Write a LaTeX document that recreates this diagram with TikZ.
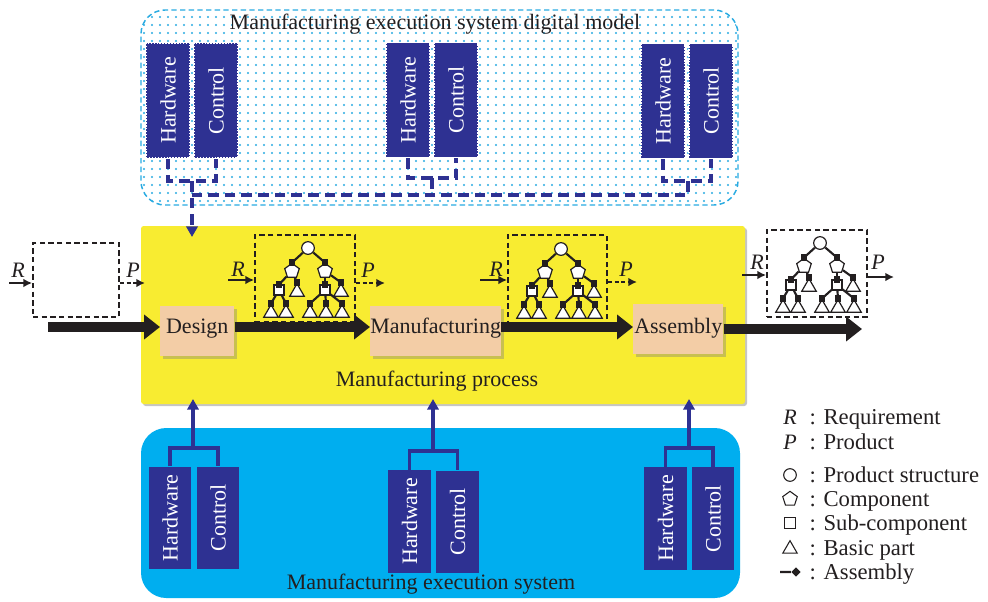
\documentclass[tikz,border=0pt]{standalone}
\usepackage{fontspec}
\setmainfont{Liberation Serif}
\usetikzlibrary{arrows.meta,shapes.geometric,fit,patterns.meta,shadows}

\definecolor{ink}{HTML}{231F20}
\definecolor{navy}{HTML}{2E3192}
\definecolor{procyellow}{HTML}{F8EC31}
\definecolor{mescyan}{HTML}{00AEEF}
\definecolor{dotcyan}{HTML}{29ABE2}
\definecolor{stagetan}{HTML}{F3CDA6}

% one product-structure tree, drawn in a 100 x 87 frame
\newcommand{\prodtree}{%
  \node[tcirc] (r) at (53,13) {};
  \node[tpent] (a) at (37,36) {};
  \node[tpent] (b) at (70,36) {};
  \node[tsq]   (a1) at (24,55) {};
  \node[ttri]  (a2) at (42,57) {};
  \node[tsq]   (b1) at (70,55) {};
  \node[ttri]  (b2) at (86,57) {};
  \node[ttri]  (a11) at (16,78) {};
  \node[ttri]  (a12) at (31,78) {};
  \node[ttri]  (b11) at (55,78) {};
  \node[ttri]  (b12) at (71,78) {};
  \node[ttri]  (b13) at (87,78) {};
  \foreach \p/\c in {r/a,r/b,a/a1,a/a2,b/b1,b/b2,a1/a11,a1/a12,b1/b11,b1/b12,b1/b13}{
    \draw[tlink] (\p) -- (\c.north);
    \node[tjoin] (\c-j) at (\c.north) {};
  }%
}

\begin{document}
\begin{tikzpicture}[x=0.75pt,y=-0.75pt,
  font=\fontsize{16.5}{19}\selectfont,
  every node/.style={text=ink},
  region/.style={inner sep=0pt},
  dmodel/.style={region, draw=dotcyan, line width=1.1pt,
    dash pattern=on 4pt off 2.5pt, rounded corners=18pt,
    pattern={Dots[distance=6pt,radius=0.85pt]}, pattern color=dotcyan},
  procreg/.style={region, fill=procyellow, rounded corners=2pt,
    drop shadow={shadow xshift=1.5pt, shadow yshift=-1.5pt, opacity=0.45}},
  mesreg/.style={region, fill=mescyan, rounded corners=19pt},
  hwbox/.style={fill=navy, text=white, inner sep=0pt,
    minimum width=33pt, minimum height=86pt},
  perfbox/.style={hwbox, draw=white, line width=1.1pt,
    dash pattern=on 1.1pt off 1.1pt},
  lowbox/.style={hwbox, minimum width=32pt, minimum height=77pt},
  stagebox/.style={fill=stagetan, inner xsep=0pt, inner ysep=0pt,
    text height=20.25pt, text depth=17.25pt, anchor=north west,
    drop shadow={shadow xshift=2pt, shadow yshift=-2pt, opacity=0.4}},
  dline/.style={navy, line width=3.2pt, dash pattern=on 8pt off 4.5pt},
  bline/.style={navy, line width=2.6pt},
  navytip/.style={-{Triangle[length=8pt,width=8.5pt]}},
  bigflow/.style={ink, line width=7.5pt, -{Triangle[length=12pt,width=18pt]}},
  rarrow/.style={ink, line width=1.6pt, -{Latex[length=6.5pt,width=6.5pt]}},
  parrow/.style={rarrow, dash pattern=on 3pt off 2pt},
  dbox/.style={draw=ink, line width=1.4pt, dash pattern=on 4pt off 2.5pt,
    inner sep=0pt},
  rp/.style={font=\fontsize{16.5}{19}\selectfont\itshape, anchor=base},
  tcirc/.style={circle, draw=ink, fill=white, line width=0.9pt,
    inner sep=0pt, minimum size=9.5pt},
  tpent/.style={regular polygon, regular polygon sides=5, draw=ink,
    fill=white, line width=0.9pt, inner sep=0pt, minimum size=11.5pt},
  tsq/.style={rectangle, draw=ink, fill=white, line width=0.9pt,
    inner sep=0pt, minimum size=7.5pt},
  ttri/.style={regular polygon, regular polygon sides=3, draw=ink,
    fill=white, line width=0.9pt, inner sep=0pt, minimum size=12.5pt},
  tlink/.style={ink, line width=1.6pt},
  tjoin/.style={rectangle, fill=ink, inner sep=0pt, minimum size=5pt},
  legsym/.style={draw=ink, line width=0.8pt, inner sep=0pt, fill=white},
  legtext/.style={anchor=base west, font=\fontsize{17}{19}\selectfont}
]
\useasboundingbox (0,0) rectangle (988,601);
\fill[white] (0,0) rectangle (988,601);

% ---------- regions ----------
\node[dmodel, fit={(141,10)(738,205)}] (dm) {};
\node[procreg, fit={(141,226)(745,404)}] (proc) {};
\node[mesreg, fit={(141,428)(740,598)}] (mes) {};

\node[anchor=base] (dmtitle) at (435,29) {Manufacturing execution system digital model};
\node[anchor=base] (proctitle) at (437,386) {Manufacturing process};
\node[anchor=base] (mestitle) at (431,589) {Manufacturing execution system};

% ---------- digital model: hardware / control ----------
\node[perfbox] (th1) at (168,100.5) {\rotatebox{90}{Hardware}};
\node[perfbox] (tc1) at (216,100.5) {\rotatebox{90}{Control}};
\node[perfbox] (th2) at (408,100) {\rotatebox{90}{Hardware}};
\node[perfbox] (tc2) at (456,100) {\rotatebox{90}{Control}};
\node[perfbox] (th3) at (663,101) {\rotatebox{90}{Hardware}};
\node[perfbox] (tc3) at (711,101) {\rotatebox{90}{Control}};

\coordinate (tj1) at (192,181);
\coordinate (tj2) at (432,178);
\coordinate (tj3) at (688,181);
\coordinate (tm) at (0,195);
\coordinate (tdrop) at (0,237);
\draw[dline] (th1.south) |- (tj1) -| (tc1.south);
\draw[dline] (th2.south) |- (tj2) -| (tc2.south);
\draw[dline] (th3.south) |- (tj3) -| (tc3.south);
\draw[dline] (tj2) -- (tj2 |- tm);
\draw[dline] (tj3) -- (tj3 |- tm) -- (tj1 |- tm);
\draw[dline, navytip] (tj1) -- (tj1 |- tdrop);

% ---------- execution system: hardware / control ----------
\node[lowbox] (bh1) at (170,518) {\rotatebox{90}{Hardware}};
\node[lowbox] (bc1) at (218,518) {\rotatebox{90}{Control}};
\node[lowbox] (bh2) at (409.5,521.5) {\rotatebox{90}{Hardware}};
\node[lowbox] (bc2) at (457.5,522) {\rotatebox{90}{Control}};
\node[lowbox] (bh3) at (665.5,518.5) {\rotatebox{90}{Hardware}};
\node[lowbox] (bc3) at (713,518.5) {\rotatebox{90}{Control}};

\coordinate (bj1) at (193,448);
\coordinate (bj2) at (433,451);
\coordinate (bj3) at (689,448);
\coordinate (btip) at (0,399);
\draw[bline] (bh1.north) |- (bj1) -| (bc1.north);
\draw[bline] (bh2.north) |- (bj2) -| (bc2.north);
\draw[bline] (bh3.north) |- (bj3) -| (bc3.north);
\draw[bline, navytip] (bj1) -- (bj1 |- btip);
\draw[bline, navytip] (bj2) -- (bj2 |- btip);
\draw[bline, navytip] (bj3) -- (bj3 |- btip);

% ---------- process stages ----------
\node[stagebox, minimum width=55.5pt] (des) at (160,306) {Design};
\node[stagebox, minimum width=97pt] (mfg) at (370,306) {Manufacturing};
\node[stagebox, minimum width=67.5pt, text height=21.75pt, text depth=15.75pt] (asm) at (633,304) {Assembly};

\coordinate (flowin) at (48,327);
\coordinate (flowout) at (862,329);
\draw[bigflow] (flowin) -- (flowin -| des.west);
\draw[bigflow] (des.east |- flowin) -- (mfg.west |- flowin);
\draw[bigflow] (mfg.east |- flowin) -- (asm.west |- flowin);
\draw[bigflow] (asm.east |- flowout) -- (flowout);

% ---------- requirement / product boxes ----------
\node[dbox, fit={(33,243)(119,317)}] (lbox) {};
\node[rp] (lR) at (18,277) {R};
\node[rp] (lP) at (133,277) {P};
\coordinate (lrin) at (9,283);
\coordinate (lpout) at (145,283);
\draw[rarrow] (lrin) -- (lrin -| lbox.west);
\draw[parrow] (lbox.east |- lpout) -- (lpout);

\node[dbox, fit={(255,235)(355,322)}] (t1box) {};
\begin{scope}[shift={(255,235)}, name prefix=ta-]\prodtree\end{scope}
\node[rp] (t1R) at (238,276) {R};
\node[rp] (t1P) at (368,277) {P};
\coordinate (t1rin) at (228,280);
\coordinate (t1pout) at (385,283);
\draw[rarrow] (t1rin) -- (t1rin -| t1box.west);
\draw[parrow] (t1box.east |- t1pout) -- (t1pout);

\node[dbox, fit={(508,235)(607,324)}] (t2box) {};
\begin{scope}[shift={(508,236)}, name prefix=tb-]\prodtree\end{scope}
\node[rp] (t2R) at (496,276) {R};
\node[rp] (t2P) at (626,276) {P};
\coordinate (t2rin) at (480,280);
\coordinate (t2pout) at (637,282);
\draw[rarrow] (t2rin) -- (t2rin -| t2box.west);
\draw[parrow] (t2box.east |- t2pout) -- (t2pout);

\node[dbox, fit={(767,230)(867,317)}] (t3box) {};
\begin{scope}[shift={(767,230)}, name prefix=tc-]\prodtree\end{scope}
\node[rp] (t3R) at (757,269) {R};
\node[rp] (t3P) at (878,269) {P};
\coordinate (t3rin) at (742,275);
\coordinate (t3pout) at (894,277);
\draw[rarrow] (t3rin) -- (t3rin -| t3box.west);
\draw[rarrow] (t3box.east |- t3pout) -- (t3pout);

% ---------- legend ----------
\node[rp] (kR) at (790,424) {R};
\node[legtext] (kRt) at (805,424) {: Requirement};
\node[rp] (kP) at (790,449) {P};
\node[legtext] (kPt) at (805,449) {: Product};
\node[legsym, circle, minimum size=9.5pt] (kc) at (790,475) {};
\node[legtext] (kct) at (805,482) {: Product structure};
\node[legsym, regular polygon, regular polygon sides=5, minimum size=11.5pt] (kp) at (790,499) {};
\node[legtext] (kpt) at (805,506) {: Component};
\node[legsym, rectangle, minimum size=8.5pt] (ks) at (790,523) {};
\node[legtext] (kst) at (805,530) {: Sub-component};
\node[legsym, regular polygon, regular polygon sides=3, minimum size=12.5pt] (kt) at (790,549) {};
\node[legtext] (ktt) at (805,555) {: Basic part};
\coordinate (ka) at (780,572);
\node[tjoin, rotate=45, minimum size=5pt] (kd) at (796,572) {};
\draw[tlink] (ka) -- (kd);
\node[legtext] (kat) at (805,579) {: Assembly};
\end{tikzpicture}
\end{document}
